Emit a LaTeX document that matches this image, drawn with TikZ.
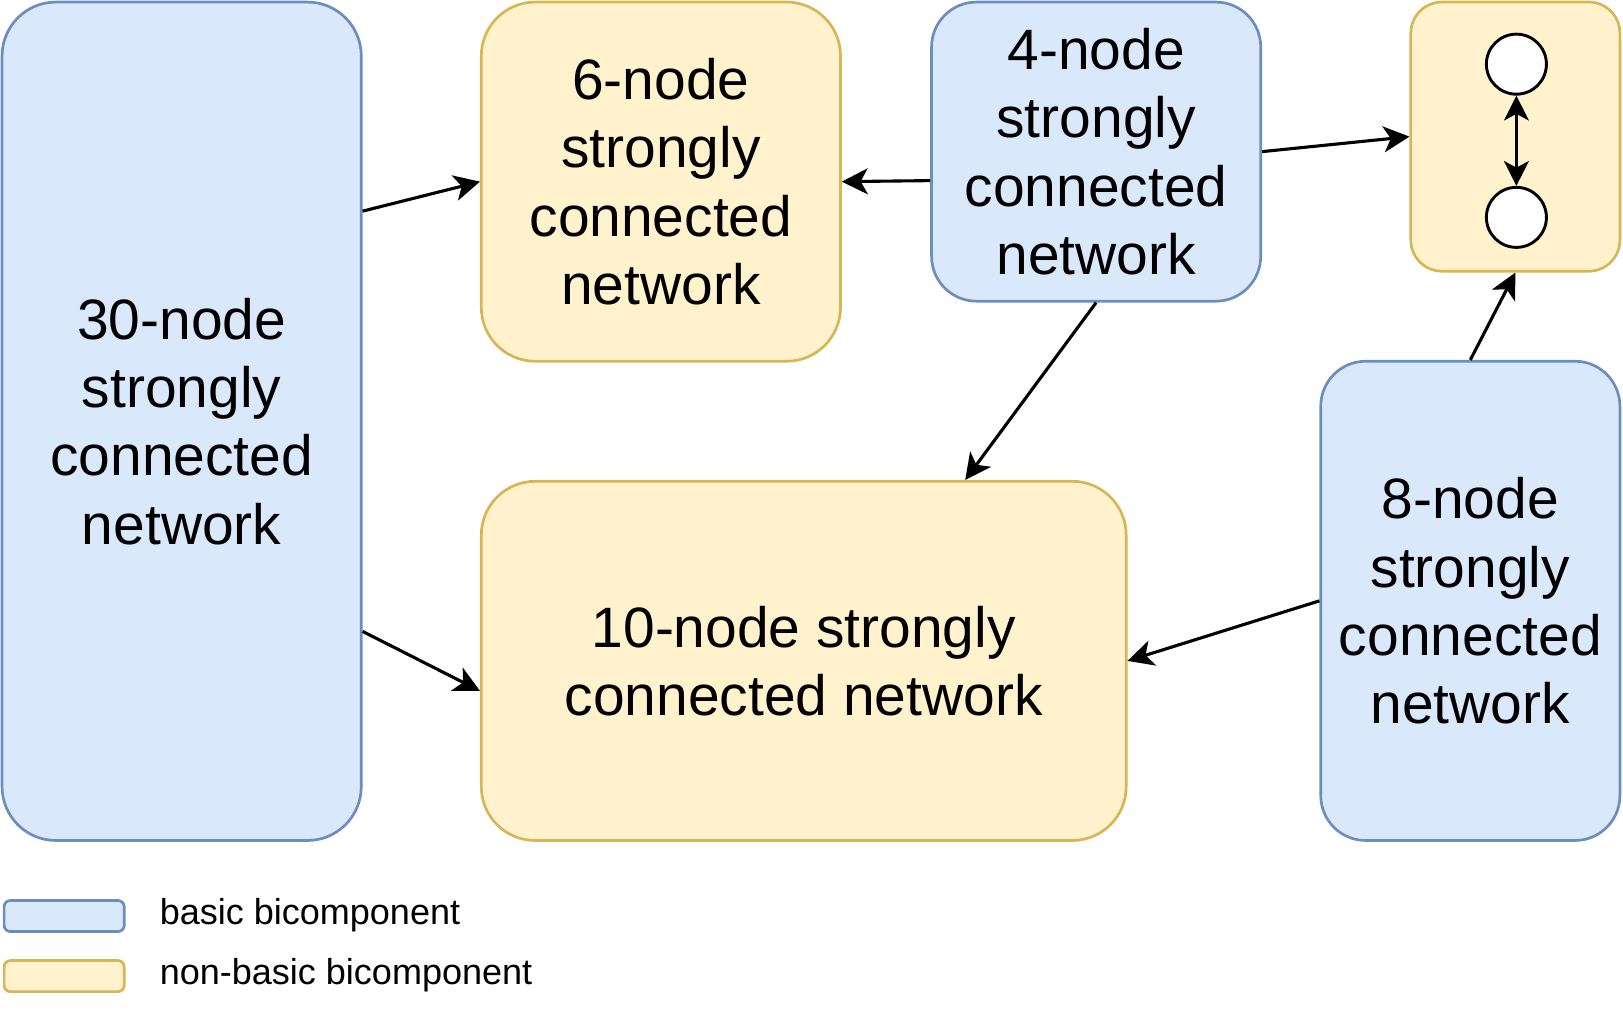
\documentclass[tikz,border=0pt]{standalone}
\usepackage{fontspec}
\setmainfont{Liberation Sans}
\usetikzlibrary{arrows.meta}
\definecolor{bfill}{HTML}{DAE8FC}
\definecolor{bdraw}{HTML}{6C8EBF}
\definecolor{yfill}{HTML}{FFF2CC}
\definecolor{ydraw}{HTML}{D6B656}
\begin{document}
\begin{tikzpicture}[x=0.5pt,y=-0.5pt,
  box/.style={rectangle,line width=1.3pt,inner sep=0pt,align=center,
    font=\fontsize{27.5}{33}\selectfont},
  basic/.style={box,fill=bfill,draw=bdraw},
  nonbasic/.style={box,fill=yfill,draw=ydraw},
  circ/.style={circle,draw=black,fill=white,line width=1.4pt,minimum size=29pt,inner sep=0pt},
  conn/.style={line width=1.5pt,-{Stealth[length=12.5pt,width=12.5pt,inset=3.4pt]}},
  dconn/.style={line width=1.5pt,{Stealth[length=12pt,width=12pt,inset=3.2pt]}-{Stealth[length=12pt,width=12pt,inset=3.2pt]}},
  legtext/.style={anchor=west,inner sep=0pt,font=\fontsize{17.4}{20}\selectfont}]
\useasboundingbox (0,0) rectangle (1568,988.3);
\node[basic,minimum width=173.5pt,minimum height=405pt,rounded corners=26pt] (n30) at (175.5,407) {30-node\\strongly\\connected\\network};
\node[nonbasic,minimum width=173.5pt,minimum height=173.5pt,rounded corners=26pt] (n6) at (638.5,175.5) {6-node\\strongly\\connected\\network};
\node[basic,minimum width=159pt,minimum height=144.5pt,rounded corners=21.7pt] (n4) at (1059,146.5) {4-node\\strongly\\connected\\network};
\node[nonbasic,minimum width=101pt,minimum height=130pt,rounded corners=15pt] (nS) at (1464,132) {};
\node[nonbasic,minimum width=311.5pt,minimum height=173.5pt,rounded corners=26pt] (n10) at (776.5,638.5) {10-node strongly\\connected network};
\node[basic,minimum width=144.5pt,minimum height=231.5pt,rounded corners=21.7pt] (n8) at (1420.5,580.5) {8-node\\strongly\\connected\\network};
\node[circ] (c1) at (1465,62) {};
\node[circ] (c2) at (1465,210) {};
\node[basic,minimum width=58pt,minimum height=15pt,rounded corners=3pt] (lb) at (62,885) {};
\node[nonbasic,minimum width=58pt,minimum height=15pt,rounded corners=3pt] (ly) at (62,943) {};
\node[legtext] (lbt) at (154,884) {basic bicomponent};
\node[legtext] (lyt) at (154,942) {non-basic bicomponent};
\draw[conn] ([yshift=101.5pt]n30.east) -- (n6.west);
\draw[conn] ([yshift=-101.5pt]n30.east) -- ([yshift=-14.5pt]n10.west);
\draw[conn] ([yshift=-14pt]n4.west) -- (n6.east);
\draw[conn] (n4.east) -- (nS.west);
\draw[conn] (n4.south) -- ([xshift=78pt]n10.north);
\draw[conn] (n8.north) -- (nS.south);
\draw[conn] (n8.west) -- (n10.east);
\draw[dconn] (c1.south) -- (c2.north);
\end{tikzpicture}
\end{document}
